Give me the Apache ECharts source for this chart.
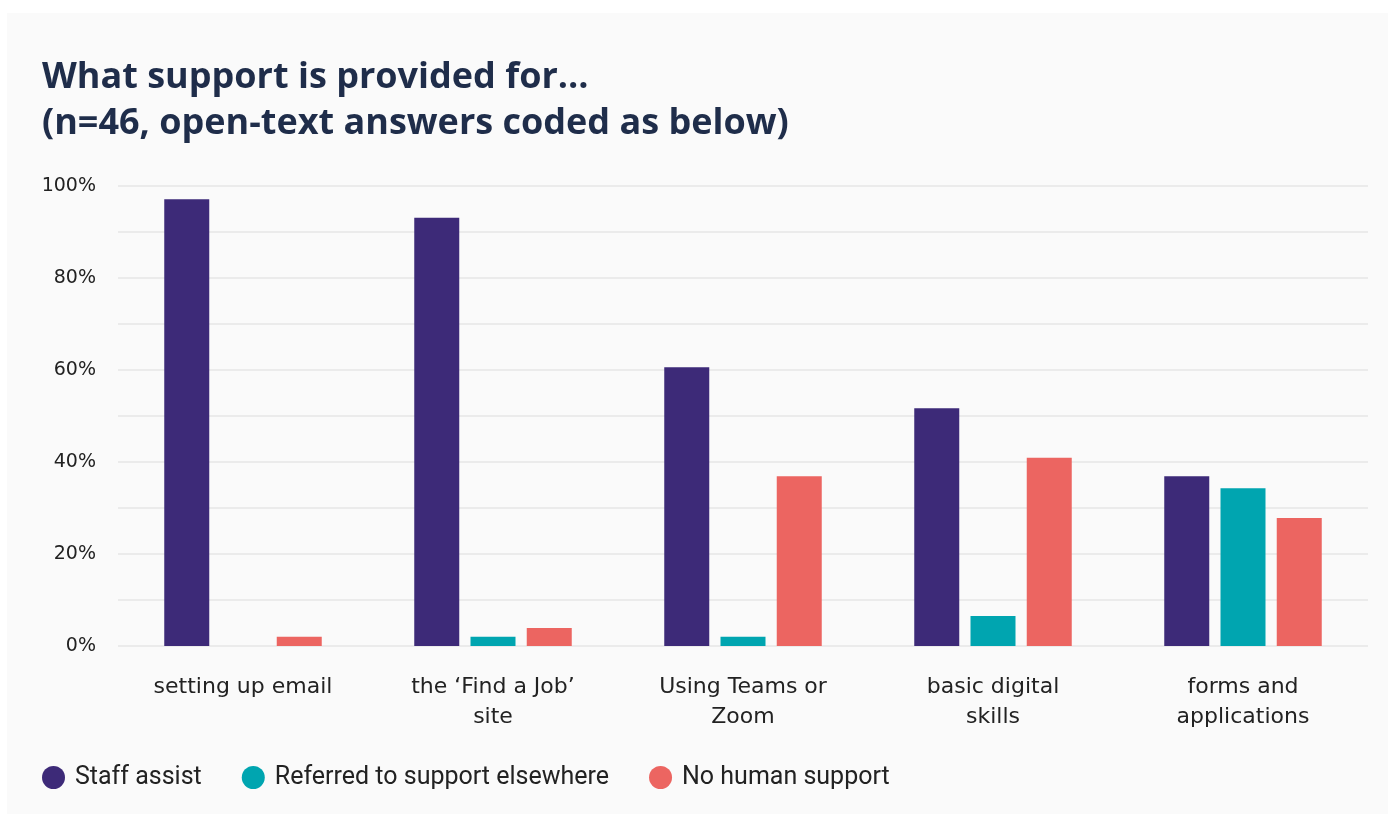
<!DOCTYPE html>
<html><head><meta charset="utf-8">
<script src="https://cdn.jsdelivr.net/npm/echarts@6/dist/echarts.min.js"></script>
<style>
html,body{margin:0;padding:0;background:#ffffff;}
#card{position:absolute;left:7px;top:13px;width:1381px;height:801px;background:#fafafa;}
#chart{position:absolute;left:0;top:0;width:1391px;height:816px;}
</style></head>
<body><div id="card"></div><div id="chart"></div>
<script>
const categories = ['setting up email', 'the \u2018Find a Job\u2019\nsite', 'Using Teams or\nZoom', 'basic digital\nskills', 'forms and\napplications'];
const seriesNames = ['Staff assist', 'Referred to support elsewhere', 'No human support'];
const staffAssist = [97.1, 93.1, 60.6, 51.7, 36.9];
const referred = [0, 2.0, 2.0, 6.5, 34.3];
const noHuman = [2.0, 3.9, 36.9, 40.9, 27.8];
const colors = ['#3d2a78', '#00a5b0', '#ec6561'];

const chart = echarts.init(document.getElementById('chart'));
const font = '"DejaVu Sans", sans-serif';
chart.setOption({
  animation: false,
  backgroundColor: 'transparent',
  title: {
    text: 'What support is provided for\u2026\n(n=46, open-text answers coded as below)',
    left: 37, top: 50,
    textStyle: {fontFamily: '"Open Sans", sans-serif', fontWeight: 700, fontSize: 36, lineHeight: 46, color: '#1f2d4a'}
  },
  legend: {
    left: 37, top: 760,
    itemWidth: 23, itemHeight: 23, itemGap: 40,
    icon: 'circle',
    textStyle: {fontFamily: 'Roboto, sans-serif', fontSize: 25, color: '#222', padding: [0, 0, 0, 5]},
    data: seriesNames
  },
  grid: {left: 118, right: 23, top: 186, bottom: 170, containLabel: false},
  xAxis: {
    type: 'category', data: categories,
    axisLine: {show: false}, axisTick: {show: false},
    axisLabel: {fontFamily: font, fontSize: 22, lineHeight: 30, color: '#222', margin: 26, interval: 0}
  },
  yAxis: {
    type: 'value', min: 0, max: 100, interval: 10,
    axisLine: {show: false}, axisTick: {show: false},
    splitLine: {lineStyle: {color: '#e6e6e6', width: 1.5}},
    axisLabel: {fontFamily: font, fontSize: 19, color: '#222', margin: 22,
      formatter: v => (v % 20 === 0 ? v + '%' : '')}
  },
  series: [
    {name: seriesNames[0], type: 'bar', data: staffAssist, itemStyle: {color: colors[0]}, barGap: '25%', barCategoryGap: '37%'},
    {name: seriesNames[1], type: 'bar', data: referred, itemStyle: {color: colors[1]}, barGap: '25%', barCategoryGap: '37%'},
    {name: seriesNames[2], type: 'bar', data: noHuman, itemStyle: {color: colors[2]}, barGap: '25%', barCategoryGap: '37%'}
  ]
});
</script></body></html>
